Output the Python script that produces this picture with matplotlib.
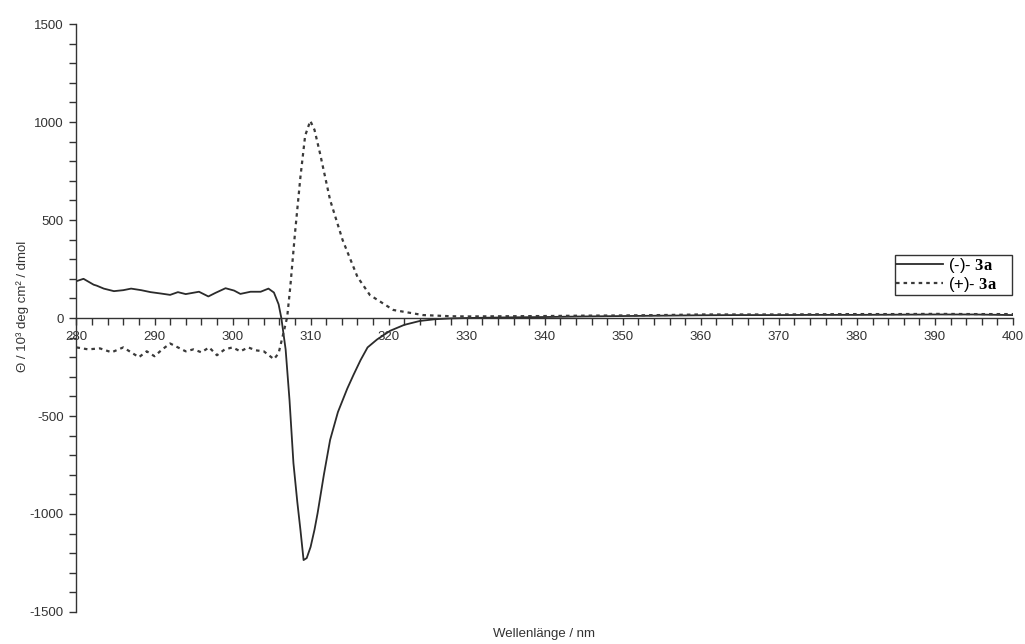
import matplotlib

matplotlib.use("Agg")
import matplotlib.pyplot as plt  # noqa: E402
from matplotlib.ticker import MultipleLocator  # noqa: E402

# (-)-3a, solid line
wl_minus = [280, 280.9, 282.2, 282.6, 283.5, 284.8, 286, 287, 288.3, 289.5, 290.8,
            292.0, 293.0, 294.0, 295.7, 296.9, 297.8, 299.1, 300.2, 301.0, 302.3,
            303.6, 304.6, 305.3, 305.9, 306.25, 306.8, 307.3, 307.8, 308.3, 308.7,
            309.1, 309.5, 310.0, 310.5, 310.9, 311.7, 312.5, 313.5, 314.7, 315.5,
            316.4, 317.3, 318.5, 320.2, 322, 324, 326, 328, 330, 335, 340, 345, 350,
            355, 360, 365, 370, 375, 380, 385, 390, 395, 400]
cd_minus = [188, 200, 170, 165, 150, 137, 142, 150, 142, 132, 125,
            118, 132, 122, 134, 110, 128, 152, 140, 123, 134,
            134, 150, 130, 70, 0, -160, -420, -740, -940, -1082,
            -1235, -1225, -1168, -1080, -995, -800, -622, -480, -360, -290,
            -215, -150, -110, -65, -35, -15, -6, -2, 0, 3, 5, 8, 10,
            12, 14, 15, 15, 16, 16, 17, 18, 18, 15]

# (+)-3a, dashed line
wl_plus = [280, 281.5, 283, 284.5, 286, 287, 288, 289, 290, 291, 292, 293, 294,
           295, 296, 297, 298, 299, 300, 301, 302, 303, 304, 305.3, 305.9, 306.5,
           307.0, 307.4, 308.0, 308.7, 309.3, 309.96, 310.5, 311.2, 312.5, 314.1,
           316.0, 317.6, 320.6, 324.4, 328, 330, 335, 340, 345, 350, 355, 360, 365,
           370, 375, 380, 385, 390, 395, 400]
cd_plus = [-150, -160, -155, -175, -150, -175, -200, -170, -195, -160, -130, -150,
           -170, -160, -175, -150, -190, -160, -150, -170, -150, -165, -170, -210,
           -180, -80, 5, 160, 433, 721, 930, 1006, 960, 841, 602, 398,
           210, 117, 41, 15, 9, 8, 9, 10, 12, 13, 15, 18, 18,
           18, 19, 20, 20, 21, 20, 20]

labels = [r"(-)- $\mathbf{3a}$    ", r"(+)- $\mathbf{3a}$    "]

plt.rcParams["font.family"] = ["Liberation Sans", "DejaVu Sans"]
plt.rcParams["axes.unicode_minus"] = False
plt.rcParams["mathtext.fontset"] = "custom"
plt.rcParams["mathtext.rm"] = "Liberation Serif"
plt.rcParams["mathtext.bf"] = "Liberation Serif:bold"

fig = plt.figure(figsize=(10.25, 6.44), dpi=100)
ax = fig.add_axes([0.0746, 0.0497, 0.9137, 0.913])

ax.plot(wl_minus, cd_minus, color="#2b2b2b", lw=1.3, label=labels[0])
ax.plot(wl_plus, cd_plus, color="#3a3a3a", lw=1.6, ls=(0, (1.6, 1.8)),
        label=labels[1])

ax.set_xlim(280, 400)
ax.set_ylim(-1500, 1500)
ax.spines["top"].set_visible(False)
ax.spines["right"].set_visible(False)
ax.spines["bottom"].set_position(("data", 0))
for s in ("left", "bottom"):
    ax.spines[s].set_color("#333333")
    ax.spines[s].set_linewidth(1.0)

ax.xaxis.set_major_locator(MultipleLocator(10))
ax.xaxis.set_minor_locator(MultipleLocator(2))
ax.yaxis.set_major_locator(MultipleLocator(500))
ax.yaxis.set_minor_locator(MultipleLocator(100))
ax.tick_params(which="both", direction="out", color="#333333", width=1.0,
               labelsize=9.5, labelcolor="#333333")
ax.tick_params(which="major", length=5, pad=4)
ax.tick_params(which="minor", length=5)

ax.set_ylabel("Θ / 10³ deg cm² / dmol", fontsize=9.5, color="#333333")
ax.yaxis.set_label_coords(-0.051, 0.52)
fig.text(0.531, 0.015, "Wellenlänge / nm", fontsize=9.5, color="#333333",
         ha="center", va="center")

leg = ax.legend(loc="upper left", bbox_to_anchor=(0.874, 0.607), fontsize=12,
                frameon=True, fancybox=False, edgecolor="black",
                handlelength=2.8, handletextpad=0.3, borderpad=0.05,
                labelspacing=0.0, borderaxespad=0)
leg.get_frame().set_linewidth(1.0)

fig.savefig("out.png", dpi=100)
